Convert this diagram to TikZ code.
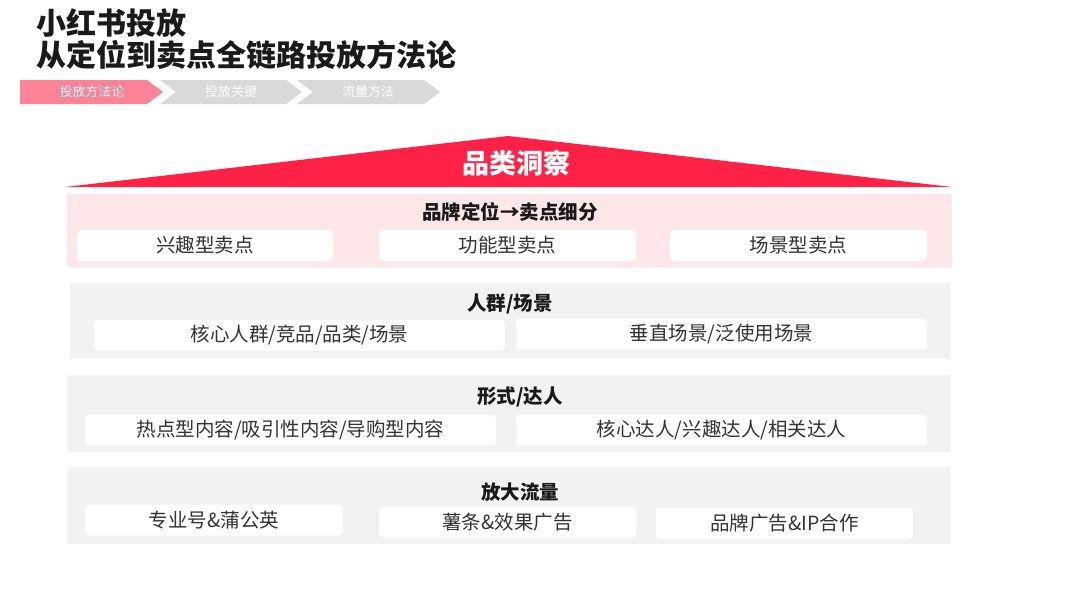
\documentclass[tikz,border=0pt]{standalone}
\usepackage{fontspec}
\setmainfont{Noto Sans CJK SC}
\definecolor{roofred}{HTML}{FF2246}
\definecolor{chevpink}{HTML}{FF8397}
\definecolor{chevgray}{HTML}{D9D9D9}
\definecolor{pinkbg}{HTML}{FFE6E8}
\definecolor{graybg}{HTML}{F2F2F2}
\definecolor{ink}{HTML}{1A1A1A}
\definecolor{itemink}{HTML}{333333}
\begin{document}
\begin{tikzpicture}[x=1pt,y=-1pt,
  sec/.style={rectangle,inner sep=0pt,anchor=center},
  item/.style={rectangle,fill=white,rounded corners=4pt,inner sep=0pt,minimum height=31pt,
    text=itemink,font=\fontsize{19.5}{21}\selectfont},
  sectitle/.style={inner sep=0pt,text=ink,font=\bfseries\fontsize{19.5}{21}\selectfont},
  chevtext/.style={inner sep=0pt,text=white,font=\fontsize{13}{15}\selectfont},
  bigtitle/.style={inner sep=0pt,anchor=west,text=ink,font=\bfseries\fontsize{30}{33}\selectfont}]
\useasboundingbox (0,0) rectangle (1080,590);
\fill[white] (0,0) rectangle (1080,590);
% titles
\node[bigtitle] (t1) at (36,23) {小红书投放};
\node[bigtitle] (t2) at (36,55) {从定位到卖点全链路投放方法论};
% chevrons
\fill[chevgray] (160,80) -- (286,80) -- (302,92) -- (286,104) -- (160,104) -- (176,92) -- cycle;
\fill[chevgray] (297,80) -- (424,80) -- (440,92) -- (424,104) -- (297,104) -- (313,92) -- cycle;
\fill[chevpink] (20,80) -- (147,80) -- (163,92) -- (147,104) -- (20,104) -- cycle;
\node[chevtext] (c1) at (92,92) {投放方法论};
\node[chevtext] (c2) at (231,92) {投放关键};
\node[chevtext] (c3) at (368,92) {流量方法};
% roof
\fill[roofred] (65,187) -- (508,136) -- (952,187) -- cycle;
\node[inner sep=0pt,text=white,font=\bfseries\fontsize{27}{30}\selectfont] (roof) at (516,163) {品类洞察};
% section 1
\node[sec,fill=pinkbg,minimum width=885pt,minimum height=73pt] (s1) at (509.5,230.5) {};
\node[sectitle] (s1t) at (510,212) {品牌定位→卖点细分};
\node[item,minimum width=256pt] (s1a) at (205,245.5) {兴趣型卖点};
\node[item,minimum width=257pt] (s1b) at (507.5,245.5) {功能型卖点};
\node[item,minimum width=257pt] (s1c) at (798.5,245.5) {场景型卖点};
% section 2
\node[sec,fill=graybg,minimum width=880pt,minimum height=75pt] (s2) at (510,320.5) {};
\node[sectitle] (s2t) at (510,304) {人群/场景};
\node[item,minimum width=411pt] (s2a) at (299.5,335) {核心人群/竞品/品类/场景};
\node[item,minimum width=411pt] (s2b) at (721.5,334) {垂直场景/泛使用场景};
% section 3
\node[sec,fill=graybg,minimum width=882pt,minimum height=77pt] (s3) at (509,413.5) {};
\node[sectitle] (s3t) at (520,397) {形式/达人};
\node[item,minimum width=411pt] (s3a) at (290.5,430) {热点型内容/吸引性内容/导购型内容};
\node[item,minimum width=411pt] (s3b) at (721.5,430) {核心达人/兴趣达人/相关达人};
% section 4
\node[sec,fill=graybg,minimum width=882pt,minimum height=77pt] (s4) at (509,505.5) {};
\node[sectitle] (s4t) at (520,492) {放大流量};
\node[item,minimum width=258pt] (s4a) at (214,520) {专业号\&蒲公英};
\node[item,minimum width=257pt] (s4b) at (507.5,522) {薯条\&效果广告};
\node[item,minimum width=257pt] (s4c) at (784.5,523.5) {品牌广告\&IP合作};
\end{tikzpicture}
\end{document}
